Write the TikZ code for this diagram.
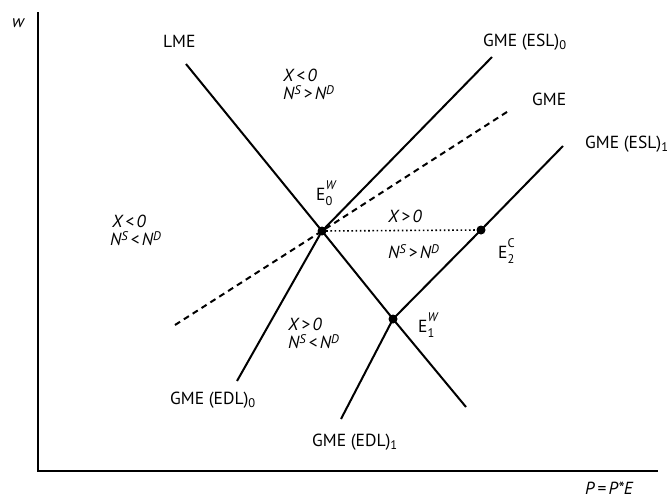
\documentclass[tikz,border=0pt]{standalone}
\usepackage{fontspec}
\setmainfont{PT Sans}
\newcommand{\szn}{\fontsize{17.5}{19}\selectfont}
\newcommand{\smf}{\fontsize{12.5}{13}\selectfont}
\newcommand{\Sb}[1]{\raisebox{-0.45ex}{\smf #1}}
\newcommand{\Sp}[1]{\raisebox{0.5ex}{\smf #1}}
\newcommand{\Eb}[1]{\raisebox{-0.6ex}{\smf #1}}
\newcommand{\Ep}[1]{\raisebox{1.15ex}{\smf #1}}
\newcommand{\SpSb}[2]{\rlap{\Ep{#1}}\Eb{#2}}
\tikzset{
  curve/.style={line width=2pt},
  axisline/.style={line width=2.2pt},
  dot/.style={circle, fill=black, inner sep=0pt, minimum size=9pt},
  lbl/.style={inner sep=0pt, anchor=base west, font=\szn},
}
\begin{document}
\begin{tikzpicture}[x=1pt,y=-1pt]
\useasboundingbox (0,0) rectangle (667,498);
% axes
\coordinate (ytop) at (38,12);
\coordinate (orig) at (38,471);
\coordinate (xend) at (658,471);
\draw[axisline] (ytop) -- (orig) -- (xend);
% points
\node[dot] (E0) at (322,231) {};
\node[dot] (E1) at (393,319) {};
\node[dot] (E2) at (481,230) {};
% line ends
\coordinate (lmeA) at (186,64);
\coordinate (lmeB) at (466,407);
\coordinate (esl0) at (492,57);
\coordinate (edl0) at (237,381);
\coordinate (esl1) at (563,146);
\coordinate (edl1) at (341,419);
\coordinate (gmeA) at (175,325);
\coordinate (gmeB) at (510,110);
% curves
\draw[curve] (lmeA) -- (E0.center) -- (E1.center) -- (lmeB);
\draw[curve] (edl0) -- (E0.center) -- (esl0);
\draw[curve] (edl1) -- (E1.center) -- (E2.center) -- (esl1);
\draw[curve, dash pattern=on 6pt off 4.5pt] (gmeA) -- (E0.center) -- (gmeB);
\draw[line width=1.6pt, dash pattern=on 1.6pt off 2.6pt] (E0.center) -- (E2.center);
% labels
\node[lbl] (lw) at (12,27) {\textit{w}};
\node[lbl] (lLME) at (163,47) {LME};
\node[lbl] (lESL0) at (483,46) {GME (ESL)\Sb{0}};
\node[lbl] (lGME) at (532,105) {GME};
\node[lbl] (lESL1) at (585,148) {GME (ESL)\Sb{1}};
\node[lbl] (lXa) at (283,81) {\textit{X\,<\,0}};
\node[lbl] (lNa) at (283,99) {\textit{N\Sp{S}\,>\,N\Sp{D}}};
\node[lbl] (lXb) at (112,227) {\textit{X\,<\,0}};
\node[lbl] (lNb) at (110,245) {\textit{N\Sp{S}\,<\,N\Sp{D}}};
\node[lbl] (lE0) at (316,200) {E\SpSb{\textit{W}}{0}};
\node[lbl] (lXc) at (388,222) {\textit{X\,>\,0}};
\node[lbl] (lNc) at (388,258) {\textit{N\Sp{S}\,>\,N\Sp{D}}};
\node[lbl] (lE2) at (498,258) {E\SpSb{C}{2}};
\node[lbl] (lE1) at (418,332) {E\SpSb{\textit{W}}{1}};
\node[lbl] (lXd) at (288,330) {\textit{X\,>\,0}};
\node[lbl] (lNd) at (288,348) {\textit{N\Sp{S}\,<\,N\Sp{D}}};
\node[lbl] (lEDL0) at (170,404) {GME (EDL)\Sb{0}};
\node[lbl] (lEDL1) at (312,446) {GME (EDL)\Sb{1}};
\node[lbl] (lP) at (585,494) {\textit{P\,=\,P*E}};
\end{tikzpicture}
\end{document}
